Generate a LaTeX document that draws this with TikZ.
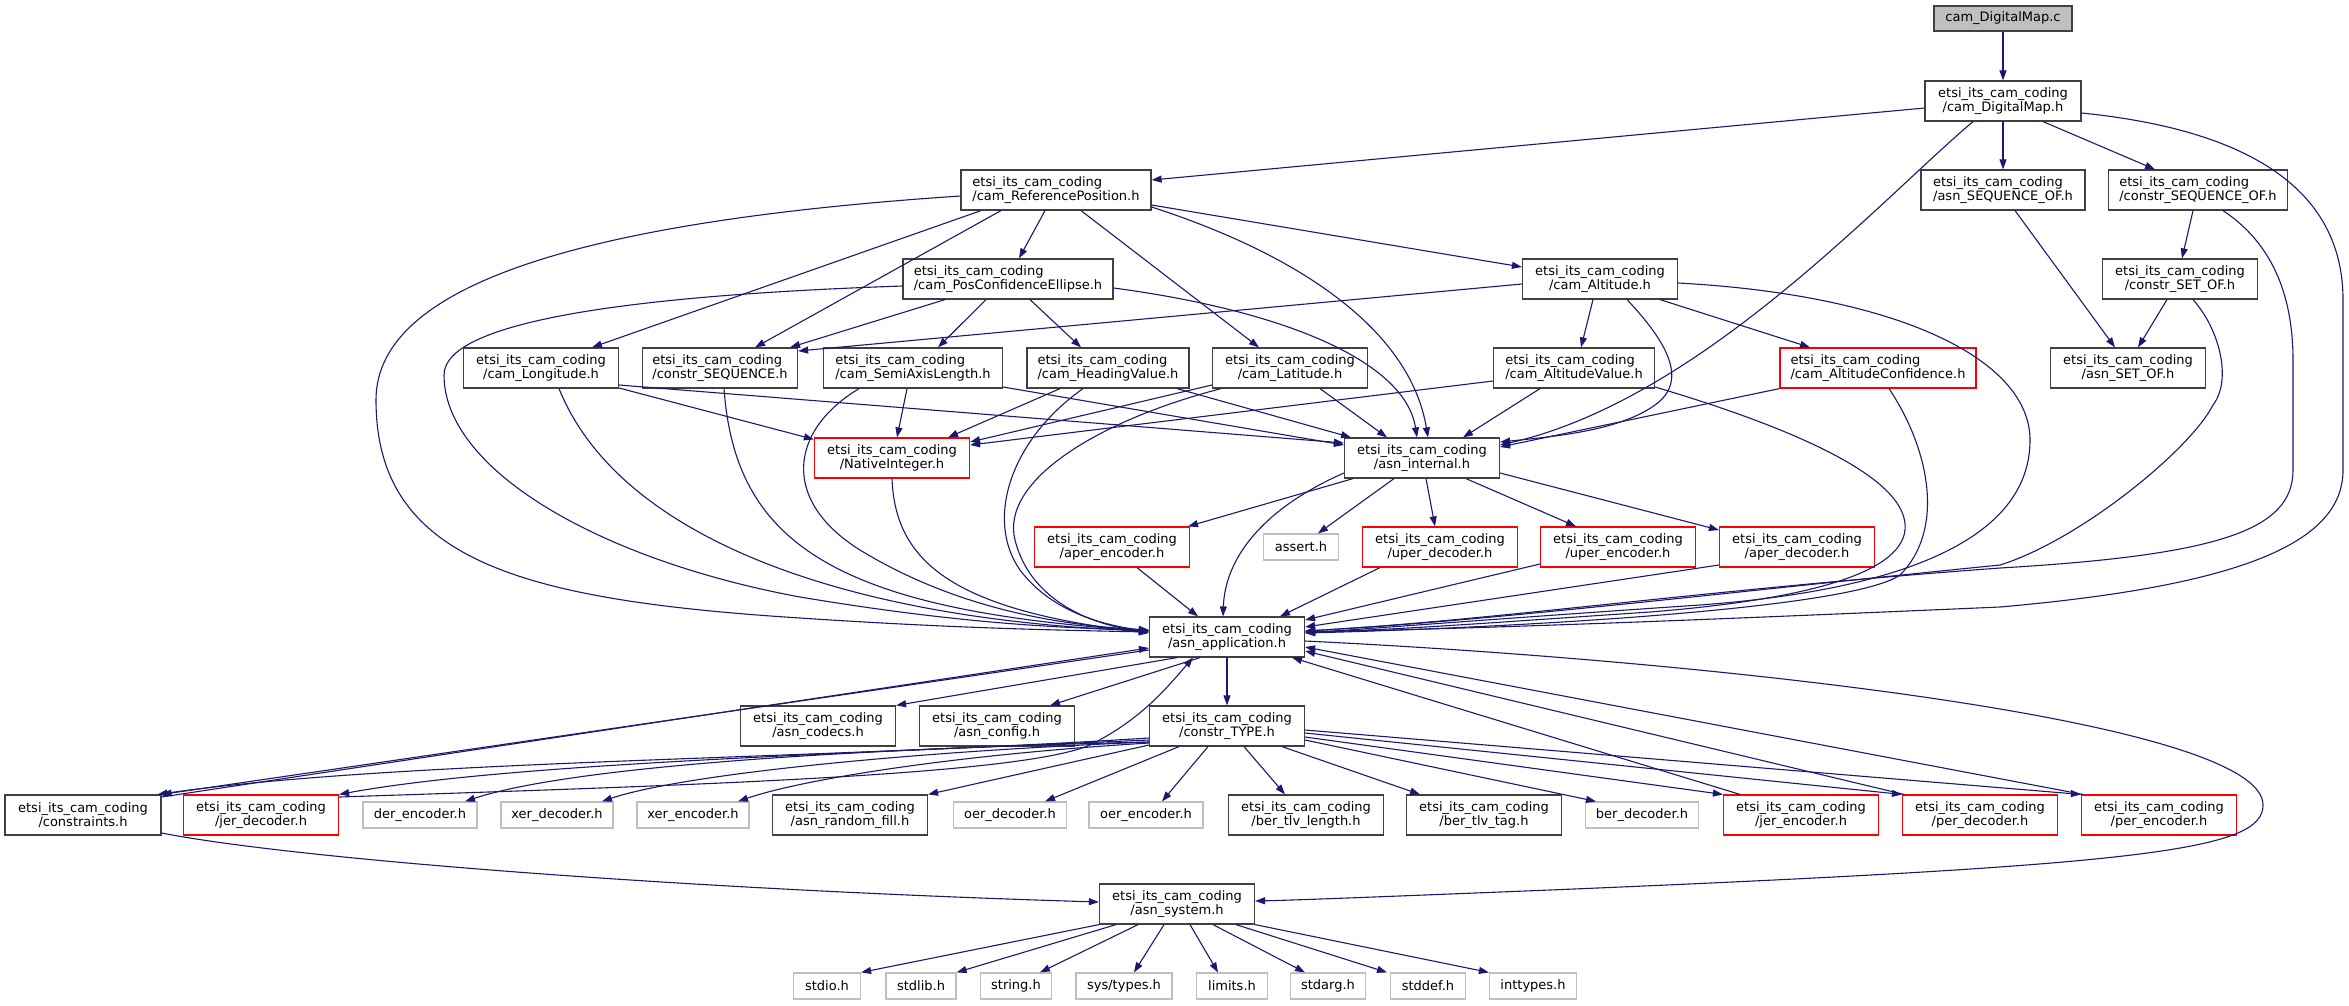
\documentclass[tikz,border=0pt]{standalone}
\usepackage{fontspec}
\setmainfont{DejaVu Sans}
\usetikzlibrary{arrows.meta}
\definecolor{edgeblue}{HTML}{191970}
\definecolor{boxgray}{HTML}{BFBFBF}
\definecolor{boxline}{HTML}{404040}
\newcommand{\etsi}{etsi\_its\_cam\_coding}
\newcommand{\nodefont}{\fontsize{13pt}{14pt}\selectfont}
\tikzset{
  hdr/.style={draw=boxline, line width=1.2pt, fill=white, font=\nodefont, align=center,
    inner xsep=6pt, inner ysep=0pt, minimum height=40pt},
  lft/.style={hdr, align=left},
  trunc/.style={hdr, draw=red},
  syshdr/.style={hdr, draw=boxgray, minimum height=26pt},
  root/.style={hdr, fill=boxgray, minimum height=25pt},
  dep/.style={-{Triangle[length=10pt,width=7pt]}, edgeblue, line width=1.1pt},
}

\begin{document}
\begin{tikzpicture}[x=1pt, y=-1pt]
\useasboundingbox (0,0) rectangle (2349,1005);

\node[root, minimum width=138pt] (dmc) at (2003,18.5) {cam\_DigitalMap.c};
\node[hdr, minimum width=156pt] (dmh) at (2003,101) {\etsi\\/cam\_DigitalMap.h};
\node[lft, minimum width=190pt] (refpos) at (1056,190) {\etsi\\/cam\_ReferencePosition.h};
\node[lft, minimum width=164pt] (seqof) at (2003,190) {\etsi\\/asn\_SEQUENCE\_OF.h};
\node[lft, minimum width=179pt] (cseqof) at (2198,190) {\etsi\\/constr\_SEQUENCE\_OF.h};
\node[lft, minimum width=210pt] (posconf) at (1008,279) {\etsi\\/cam\_PosConfidenceEllipse.h};
\node[hdr, minimum width=155pt] (alt) at (1600,279) {\etsi\\/cam\_Altitude.h};
\node[hdr, minimum width=155pt] (csetof) at (2180,279) {\etsi\\/constr\_SET\_OF.h};
\node[hdr, minimum width=155pt] (lon) at (541,368) {\etsi\\/cam\_Longitude.h};
\node[lft, minimum width=155pt] (cseq) at (720,368) {\etsi\\/constr\_SEQUENCE.h};
\node[lft, minimum width=179pt] (semi) at (913,368) {\etsi\\/cam\_SemiAxisLength.h};
\node[lft, minimum width=162pt] (head) at (1108,368) {\etsi\\/cam\_HeadingValue.h};
\node[hdr, minimum width=155pt] (lat) at (1290,368) {\etsi\\/cam\_Latitude.h};
\node[lft, minimum width=161pt] (altval) at (1574,368) {\etsi\\/cam\_AltitudeValue.h};
\node[lft, draw=red, minimum width=196pt] (altconf) at (1878,368) {\etsi\\/cam\_AltitudeConfidence.h};
\node[hdr, minimum width=155pt] (setof) at (2128,368) {\etsi\\/asn\_SET\_OF.h};
\node[trunc, minimum width=155pt] (nint) at (892,458) {\etsi\\/NativeInteger.h};
\node[hdr, minimum width=155pt] (internal) at (1422,458) {\etsi\\/asn\_internal.h};
\node[trunc, minimum width=155pt] (aenc) at (1112,547) {\etsi\\/aper\_encoder.h};
\node[syshdr, minimum width=75pt] (assert) at (1301,547) {assert.h};
\node[trunc, minimum width=155pt] (udec) at (1440,547) {\etsi\\/uper\_decoder.h};
\node[trunc, minimum width=155pt] (uenc) at (1618,547) {\etsi\\/uper\_encoder.h};
\node[trunc, minimum width=155pt] (adec) at (1797,547) {\etsi\\/aper\_decoder.h};
\node[hdr, minimum width=155pt] (app) at (1227,637) {\etsi\\/asn\_application.h};
\node[hdr, minimum width=155pt] (codecs) at (818,726) {\etsi\\/asn\_codecs.h};
\node[hdr, minimum width=155pt] (config) at (997,726) {\etsi\\/asn\_config.h};
\node[hdr, minimum width=155pt] (ctype) at (1227,726) {\etsi\\/constr\_TYPE.h};
\node[hdr, minimum width=156pt] (constraints) at (83,815) {\etsi\\/constraints.h};
\node[trunc, minimum width=155pt] (jdec) at (261,815) {\etsi\\/jer\_decoder.h};
\node[syshdr, minimum width=114pt] (derenc) at (420,815) {der\_encoder.h};
\node[syshdr, minimum width=112pt] (xdec) at (557,815) {xer\_decoder.h};
\node[syshdr, minimum width=112pt] (xenc) at (693,815) {xer\_encoder.h};
\node[hdr, minimum width=155pt] (rfill) at (850,815) {\etsi\\/asn\_random\_fill.h};
\node[syshdr, minimum width=113pt] (odec) at (1010,815) {oer\_decoder.h};
\node[syshdr, minimum width=114pt] (oenc) at (1146,815) {oer\_encoder.h};
\node[hdr, minimum width=155pt] (tlvlen) at (1306,815) {\etsi\\/ber\_tlv\_length.h};
\node[hdr, minimum width=155pt] (tlvtag) at (1484,815) {\etsi\\/ber\_tlv\_tag.h};
\node[syshdr, minimum width=113pt] (bdec) at (1642,815) {ber\_decoder.h};
\node[trunc, minimum width=155pt] (jenc) at (1801,815) {\etsi\\/jer\_encoder.h};
\node[trunc, minimum width=155pt] (pdec) at (1980,815) {\etsi\\/per\_decoder.h};
\node[trunc, minimum width=155pt] (penc) at (2159,815) {\etsi\\/per\_encoder.h};
\node[hdr, minimum width=155pt] (sys) at (1177,904) {\etsi\\/asn\_system.h};
\node[syshdr, minimum width=67pt] (stdio) at (827,986) {stdio.h};
\node[syshdr, minimum width=70pt] (stdlib) at (921,986) {stdlib.h};
\node[syshdr, minimum width=71pt] (string) at (1016,986) {string.h};
\node[syshdr, minimum width=96pt] (systypes) at (1124,986) {sys/types.h};
\node[syshdr, minimum width=71pt] (limits) at (1232,986) {limits.h};
\node[syshdr, minimum width=75pt] (stdarg) at (1328,986) {stdarg.h};
\node[syshdr, minimum width=75pt] (stddef) at (1428,986) {stddef.h};
\node[syshdr, minimum width=87pt] (inttypes) at (1533,986) {inttypes.h};

% top part
\draw[dep] (dmc) -- (dmh);
\draw[dep] (dmh) -- (seqof);
\draw[dep] ([xshift=40pt]dmh.south) -- ([xshift=-43pt]cseqof.north);
\draw[dep] ([yshift=-7pt]dmh.west) -- ([yshift=10pt]refpos.east);
\draw[dep] ([xshift=-30pt]dmh.south) .. controls (1880,200) and (1700,400) .. ([yshift=13pt]internal.east);
\draw[dep] ([yshift=-12pt]dmh.east) .. controls (2250,130) and (2343,190) .. (2343,300) -- (2343,470)
  .. controls (2343,540) and (2250,585) .. (2000,607) .. controls (1700,620) and (1500,628) .. ([yshift=5pt]app.east);
\draw[dep] ([xshift=12pt]seqof.south) -- ([xshift=-13pt]setof.north);
\draw[dep] ([xshift=-5pt]cseqof.south) -- ([xshift=2pt]csetof.north);
\draw[dep] ([xshift=-13pt]csetof.south) -- ([xshift=10pt]setof.north);
\draw[dep] ([xshift=25pt]cseqof.south) .. controls (2275,245) and (2293,300) .. (2293,360) -- (2293,470)
  .. controls (2293,530) and (2220,555) .. (2000,568) .. controls (1700,590) and (1500,620) .. ([yshift=6pt]app.east);
\draw[dep] ([xshift=13pt]csetof.south) .. controls (2220,330) and (2232,380) .. (2213,405)
  .. controls (2190,450) and (2080,540) .. (2000,565) .. controls (1700,595) and (1500,620) .. ([yshift=6pt]app.east);

% cam_ReferencePosition.h
\draw[dep] ([yshift=-6pt]refpos.west) .. controls (600,220) and (376,280) .. (376,400)
  .. controls (376,560) and (520,600) .. (800,618) .. controls (950,628) and (1050,630) .. ([yshift=5pt]app.west);
\draw[dep] ([xshift=-75pt]refpos.south) -- ([xshift=51pt]lon.north);
\draw[dep] ([xshift=-55pt]refpos.south) -- ([xshift=35pt]cseq.north);
\draw[dep] ([xshift=-11pt]refpos.south) -- ([xshift=11pt]posconf.north);
\draw[dep] ([xshift=25pt]refpos.south) -- ([xshift=-31pt]lat.north);
\draw[dep] ([yshift=-17pt]refpos.east) .. controls (1300,255) and (1410,330) .. ([xshift=6pt]internal.north);
\draw[dep] ([yshift=-15pt]refpos.east) -- ([yshift=12pt]alt.west);

% cam_PosConfidenceEllipse.h
\draw[dep] ([yshift=-7pt]posconf.west) .. controls (640,295) and (444,320) .. (444,375)
  .. controls (444,470) and (600,560) .. (800,597) .. controls (950,622) and (1050,628) .. ([yshift=7pt]app.west);
\draw[dep] ([xshift=-63pt]posconf.south) -- ([xshift=70pt]cseq.north);
\draw[dep] ([xshift=-22pt]posconf.south) -- ([xshift=25pt]semi.north);
\draw[dep] ([xshift=22pt]posconf.south) -- ([xshift=-27pt]head.north);
\draw[dep] ([yshift=-9pt]posconf.east) .. controls (1280,310) and (1405,360) .. ([xshift=-5pt]internal.north);

% cam_Altitude.h
\draw[dep] ([yshift=-5pt]alt.west) -- ([yshift=17pt]cseq.east);
\draw[dep] ([xshift=-7pt]alt.south) -- ([xshift=7pt]altval.north);
\draw[dep] ([xshift=27pt]alt.south) .. controls (1665,340) and (1690,380) .. (1655,405)
  .. controls (1620,430) and (1560,436) .. ([yshift=16pt]internal.east);
\draw[dep] ([xshift=60pt]alt.south) -- ([xshift=-68pt]altconf.north);
\draw[dep] ([yshift=-4pt]alt.east) .. controls (1900,295) and (2030,360) .. (2030,440)
  .. controls (2030,540) and (1900,590) .. (1700,605) .. controls (1550,615) and (1420,625) .. ([yshift=4pt]app.east);

% value headers
\draw[dep] ([yshift=-13pt]altval.west) -- ([yshift=13pt]nint.east);
\draw[dep] ([xshift=-34pt]altval.south) -- ([xshift=41pt]internal.north);
\draw[dep] ([yshift=-19pt]altval.east) .. controls (1800,430) and (1910,480) .. (1905,530)
  .. controls (1900,575) and (1800,600) .. (1650,612) .. controls (1500,622) and (1400,630) .. ([yshift=5pt]app.east);
\draw[dep] (altconf.south west) -- ([yshift=11pt]internal.east);
\draw[dep] ([xshift=11pt]altconf.south) .. controls (1930,450) and (1945,530) .. (1900,575)
  .. controls (1850,610) and (1500,628) .. ([yshift=4pt]app.east);
\draw[dep] ([yshift=-20pt]lon.east) -- ([yshift=-2pt]nint.north west);
\draw[dep] ([yshift=-17pt]lon.east) -- ([yshift=15pt]internal.west);
\draw[dep] ([xshift=18pt]lon.south) .. controls (620,540) and (850,620) .. ([yshift=6pt]app.west);
\draw[dep] ([xshift=4pt]cseq.south) .. controls (735,540) and (830,610) .. ([yshift=6pt]app.west);
\draw[dep] ([xshift=-6pt]semi.south) -- ([xshift=5pt]nint.north);
\draw[dep] ([yshift=-19pt]semi.east) -- ([yshift=13pt]internal.west);
\draw[dep] ([xshift=-54pt]semi.south) .. controls (790,430) and (780,500) .. (860,550)
  .. controls (950,605) and (1050,625) .. ([yshift=7pt]app.west);
\draw[dep] ([xshift=-48pt]head.south) -- ([xshift=56pt]nint.north);
\draw[dep] ([xshift=69pt]head.south) -- ([xshift=-71pt]internal.north);
\draw[dep] ([xshift=-25pt]head.south) .. controls (1010,440) and (985,520) .. (1020,570)
  .. controls (1050,610) and (1100,625) .. ([yshift=6pt]app.west);
\draw[dep] ([yshift=-17pt]lat.west) -- ([yshift=16pt]nint.east);
\draw[dep] ([xshift=30pt]lat.south) -- ([xshift=-35pt]internal.north);
\draw[dep] ([xshift=-69pt]lat.south) .. controls (1100,420) and (1000,480) .. (1015,540)
  .. controls (1030,600) and (1090,625) .. ([yshift=5pt]app.west);
\draw[dep] (nint.south) .. controls (895,560) and (950,610) .. ([yshift=4pt]app.west);

% asn_internal.h
\draw[dep] ([yshift=-15pt]internal.west) .. controls (1260,510) and (1225,560) .. ([xshift=-4pt]app.north);
\draw[dep] ([xshift=-69pt]internal.south) -- ([xshift=76pt]aenc.north);
\draw[dep] ([xshift=-28pt]internal.south) -- ([xshift=17pt]assert.north);
\draw[dep] ([xshift=4pt]internal.south) -- ([xshift=-5pt]udec.north);
\draw[dep] ([xshift=44pt]internal.south) -- ([xshift=-42pt]uenc.north);
\draw[dep] ([yshift=-15pt]internal.east) -- ([yshift=17pt]adec.west);
\draw[dep] ([xshift=25pt]aenc.south) -- ([xshift=-29pt]app.north);
\draw[dep] ([xshift=-60pt]udec.south) -- ([xshift=53pt]app.north);
\draw[dep] ([yshift=-17pt]uenc.west) -- ([yshift=17pt]app.east);
\draw[dep] ([yshift=-18pt]adec.west) -- ([yshift=10pt]app.east);

% asn_application.h
\draw[dep] ([xshift=-50pt]app.south) -- (codecs.north east);
\draw[dep] ([xshift=-27pt]app.south) -- ([xshift=53pt]config.north);
\draw[dep] (app) -- (ctype);
\draw[dep] ([yshift=-13pt]app.west) -- (constraints.north east);
\draw[dep] ([yshift=18pt]constraints.east) -- ([yshift=-11pt]app.west);
\draw[dep] ([yshift=-4pt]app.east) .. controls (1700,660) and (2263,720) .. (2263,805)
  .. controls (2263,850) and (2150,865) .. (1550,890) .. controls (1400,896) and (1300,900) .. ([yshift=3pt]sys.east);
\draw[dep] ([yshift=-18pt]constraints.east) .. controls (300,860) and (700,890) .. ([yshift=2pt]sys.west);

% constr_TYPE.h
\draw[dep] ([yshift=-12pt]ctype.west) .. controls (800,760) and (400,760) .. ([xshift=-4pt]constraints.north east);
\draw[dep] ([yshift=-14pt]ctype.west) .. controls (800,755) and (500,765) .. (jdec.north east);
\draw[dep] ([yshift=18pt]jdec.east) .. controls (700,785) and (1020,775) .. (1090,745)
  .. controls (1140,720) and (1165,690) .. ([xshift=-34pt]app.south);
\draw[dep] ([yshift=-16pt]ctype.west) .. controls (800,750) and (560,770) .. ([xshift=45pt]derenc.north);
\draw[dep] ([yshift=-16pt]ctype.west) .. controls (900,752) and (680,775) .. ([xshift=45pt]xdec.north);
\draw[dep] ([yshift=-17pt]ctype.west) .. controls (950,755) and (800,780) .. ([xshift=45pt]xenc.north);
\draw[dep] ([yshift=-19pt]ctype.west) -- (rfill.north east);
\draw[dep] ([xshift=-48pt]ctype.south) -- ([xshift=35pt]odec.north);
\draw[dep] ([xshift=-19pt]ctype.south) -- ([xshift=16pt]oenc.north);
\draw[dep] ([xshift=17pt]ctype.south) -- ([xshift=-21pt]tlvlen.north);
\draw[dep] ([xshift=55pt]ctype.south) -- ([xshift=-64pt]tlvtag.north);
\draw[dep] ([yshift=-14pt]ctype.east) -- ([xshift=-46pt]bdec.north);
\draw[dep] ([yshift=-11pt]ctype.east) -- (jenc.north west);
\draw[dep] ([yshift=-7pt]ctype.east) -- (pdec.north west);
\draw[dep] ([yshift=-4pt]ctype.east) -- (penc.north west);
\draw[dep] ([xshift=-61pt]jenc.north) -- ([xshift=65pt]app.south);
\draw[dep] ([xshift=2pt]pdec.north west) -- ([yshift=-14pt]app.east);
\draw[dep] ([xshift=2pt]penc.north west) -- ([yshift=-10pt]app.east);

% asn_system.h
\draw[dep] (sys.south west) -- (stdio.north east);
\draw[dep] ([xshift=-61pt]sys.south) -- (stdlib.north east);
\draw[dep] ([xshift=-39pt]sys.south) -- ([xshift=24pt]string.north);
\draw[dep] ([xshift=-13pt]sys.south) -- ([xshift=10pt]systypes.north);
\draw[dep] ([xshift=13pt]sys.south) -- ([xshift=-14pt]limits.north);
\draw[dep] ([xshift=36pt]sys.south) -- ([xshift=-23pt]stdarg.north);
\draw[dep] ([xshift=59pt]sys.south) -- ([xshift=-41pt]stddef.north);
\draw[dep] (sys.south east) -- (inttypes.north west);
\end{tikzpicture}
\end{document}
